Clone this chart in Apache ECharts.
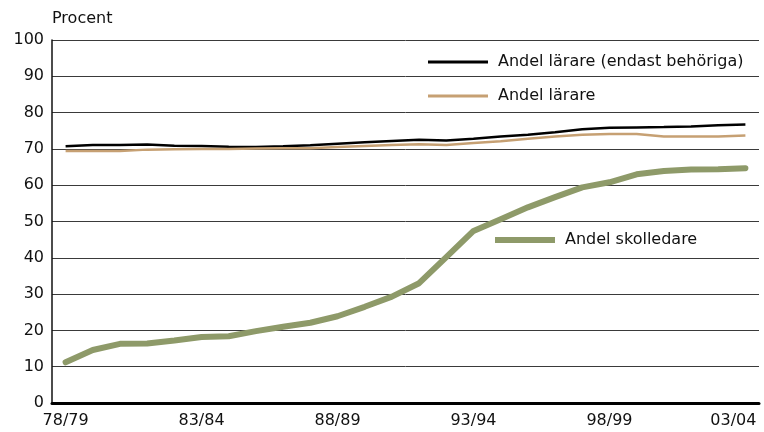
<!DOCTYPE html>
<html>
<head>
<meta charset="utf-8">
<script src="https://cdn.jsdelivr.net/npm/echarts@6/dist/echarts.min.js"></script>
<style>
  html, body { margin: 0; padding: 0; background: #fff; }
  #chart { width: 764px; height: 432px; }
</style>
</head>
<body>
<div id="chart"></div>
<script>
// lasår 78/79 .. 03/04
const years = [
  '78/79','79/80','80/81','81/82','82/83','83/84','84/85','85/86','86/87','87/88',
  '88/89','89/90','90/91','91/92','92/93','93/94','94/95','95/96','96/97','97/98',
  '98/99','99/00','00/01','01/02','02/03','03/04'
];
const laraBehoriga = [
  70.7, 71.1, 71.1, 71.2, 70.9, 70.8, 70.6, 70.5, 70.7, 71.0,
  71.4, 71.8, 72.2, 72.5, 72.3, 72.8, 73.4, 73.9, 74.6, 75.4,
  75.8, 75.9, 76.0, 76.2, 76.5, 76.7
];
const larare = [
  69.4, 69.4, 69.4, 69.8, 69.9, 70.0, 70.0, 70.1, 70.2, 70.2,
  70.5, 70.8, 71.1, 71.3, 71.1, 71.6, 72.1, 72.8, 73.4, 73.9,
  74.1, 74.1, 73.4, 73.4, 73.4, 73.7
];
const skolledare = [
  11.2, 14.6, 16.3, 16.4, 17.2, 18.2, 18.4, 19.8, 21.0, 22.1,
  23.9, 26.5, 29.3, 33.0, 40.2, 47.4, 50.6, 53.9, 56.7, 59.4,
  60.8, 63.0, 63.9, 64.3, 64.4, 64.7
];
const yTicks = { min: 0, max: 100, step: 10 };

const chart = echarts.init(document.getElementById('chart'));
const font = 'DejaVu Sans, sans-serif';

// sista etiketten skjuts in lite (som i originalet)
const xData = years.map((y, i) =>
  i === years.length - 1 ? { value: y, textStyle: { padding: [0, 24, 0, 0] } } : y
);

const legendBase = {
  orient: 'vertical',
  icon: 'rect',
  itemWidth: 60,
  padding: 0,
  textStyle: { fontFamily: font, fontSize: 16, color: '#111', padding: [0, 0, 0, 5] },
  selectedMode: false
};

const option = {
  backgroundColor: '#fff',
  animation: false,
  grid: { left: 52, right: 5, top: 40, bottom: 29 },
  legend: [
    Object.assign({}, legendBase, { left: 428, top: 54, itemHeight: 3, data: ['Andel lärare (endast behöriga)'] }),
    Object.assign({}, legendBase, { left: 428, top: 88, itemHeight: 3, data: ['Andel lärare'] }),
    Object.assign({}, legendBase, { left: 495, top: 232, itemHeight: 6, data: ['Andel skolledare'] })
  ],
  xAxis: {
    type: 'category',
    data: xData,
    boundaryGap: true,
    axisLine: { lineStyle: { color: '#000', width: 3 } },
    axisTick: { show: false },
    axisLabel: {
      interval: 4,
      margin: 10,
      fontFamily: font,
      fontSize: 16,
      color: '#111'
    }
  },
  yAxis: {
    type: 'value',
    min: yTicks.min,
    max: yTicks.max,
    interval: yTicks.step,
    name: 'Procent',
    nameLocation: 'end',
    nameGap: 13,
    nameTextStyle: { fontFamily: font, fontSize: 16, color: '#111', align: 'left' },
    axisLine: { show: true, lineStyle: { color: '#111', width: 1.5 } },
    axisTick: { show: false },
    axisLabel: { fontFamily: font, fontSize: 16, color: '#111', margin: 8 },
    splitLine: { lineStyle: { color: '#3a3a3a', width: 1 } }
  },
  series: [
    {
      name: 'Andel lärare (endast behöriga)',
      type: 'line',
      data: laraBehoriga,
      showSymbol: false,
      color: '#000',
      lineStyle: { width: 2.5, color: '#000' }
    },
    {
      name: 'Andel lärare',
      type: 'line',
      data: larare,
      showSymbol: false,
      color: '#c6a073',
      lineStyle: { width: 2.5, color: '#c6a073' }
    },
    {
      name: 'Andel skolledare',
      type: 'line',
      data: skolledare,
      showSymbol: false,
      color: '#8e9a69',
      lineStyle: { width: 6, color: '#8e9a69', cap: 'round', join: 'round' }
    }
  ]
};

chart.setOption(option);
</script>
</body>
</html>
